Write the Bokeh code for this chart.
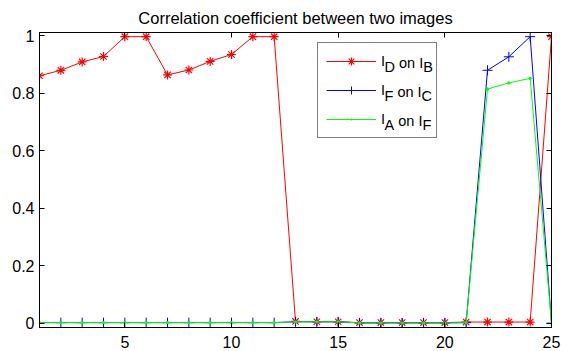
from bokeh.plotting import figure
from bokeh.models import (Range1d, FixedTicker, LinearAxis, Legend, LegendItem, Label,
                          CustomLabelingPolicy)
from bokeh.core.properties import value
from bokeh.embed import file_html
from bokeh.resources import INLINE

# ---- data ----
x_vals = list(range(1, 26))
db_vals = [0.861, 0.880, 0.909, 0.928, 0.997, 0.997, 0.864, 0.881, 0.911, 0.935,
           0.997, 0.997, 0.006, 0.005, 0.005, 0.002, 0.002, 0.002, 0.002, 0.002,
           0.004, 0.004, 0.004, 0.004, 0.997]
fc_vals = [0.002, 0.002, 0.002, 0.002, 0.002, 0.002, 0.002, 0.002, 0.002, 0.002,
           0.002, 0.002, 0.005, 0.005, 0.005, 0.001, 0.001, 0.001, 0.001, 0.001,
           0.002, 0.880, 0.927, 0.997, 0.0]
af_vals = [0.002, 0.002, 0.002, 0.002, 0.002, 0.002, 0.002, 0.002, 0.002, 0.002,
           0.002, 0.002, 0.005, 0.005, 0.005, 0.001, 0.001, 0.001, 0.001, 0.001,
           0.002, 0.815, 0.836, 0.852, 0.0]
x_ticks = [5, 10, 15, 20, 25]
y_ticks = [0, 0.2, 0.4, 0.6, 0.8, 1]
y_tick_labels = ["0", "0.2", "0.4", "0.6", "0.8", "1"]
title_text = "Correlation coefficient between two images"
legend_parts = [("I", "D", "on I", "B"), ("I", "F", "on I", "C"), ("I", "A", "on I", "F")]

FONT = "Liberation Sans"
W, H = 576, 351
BL, BR, BT, BB = 39, 25, 32, 24
X0, X1, Y0, Y1 = 1, 25, -0.015, 1.0115

p = figure(width=W, height=H, output_backend="svg", toolbar_location=None,
           x_range=Range1d(X0, X1), y_range=Range1d(Y0, Y1),
           title=title_text)
p.min_border_left = BL
p.min_border_right = BR
p.min_border_top = BT
p.min_border_bottom = BB
p.background_fill_color = "white"
p.border_fill_color = "white"
p.outline_line_color = "black"
p.outline_line_width = 1
p.grid.visible = False

p.title.text_font = FONT
p.title.text_font_size = "16.5px"
p.title.text_font_style = "normal"
p.title.text_color = "black"
p.title.align = "center"
p.title.standoff = 12

no_labels = CustomLabelingPolicy(code="return new Set()")


def style_axis(ax, labels=True):
    ax.axis_line_color = "black"
    ax.major_tick_line_color = "black"
    ax.major_tick_in = 5
    ax.major_tick_out = 0
    ax.minor_tick_in = 0
    ax.minor_tick_out = 0
    ax.major_label_text_font = FONT
    ax.major_label_text_color = "black"
    if labels:
        ax.major_label_text_font_size = "16px"
    else:
        ax.major_label_text_font_size = "0px"
        ax.major_label_standoff = 0
        ax.major_label_policy = no_labels


p.xaxis.ticker = FixedTicker(ticks=x_ticks)
p.yaxis.ticker = FixedTicker(ticks=y_ticks)
p.yaxis.major_label_overrides = {t: l for t, l in zip(y_ticks, y_tick_labels)}
style_axis(p.xaxis[0])
style_axis(p.yaxis[0])
p.xaxis.major_label_standoff = 8
p.yaxis.major_label_standoff = 5

top_ax = LinearAxis(ticker=FixedTicker(ticks=x_ticks))
style_axis(top_ax, labels=False)
p.add_layout(top_ax, "above")
right_ax = LinearAxis(ticker=FixedTicker(ticks=y_ticks))
style_axis(right_ax, labels=False)
p.add_layout(right_ax, "right")

red, blue, green = "#ff0000", "#0000ff", "#00ff00"
l1 = p.line(x_vals, db_vals, line_color=red, line_width=1)
m1 = p.scatter(x_vals, db_vals, marker="asterisk", size=9, line_color=red, line_width=1.2)
l2 = p.line(x_vals, fc_vals, line_color=blue, line_width=1)
m2 = p.scatter(x_vals, fc_vals, marker="cross", size=10, line_color=blue, line_width=1)
l3 = p.line(x_vals, af_vals, line_color=green, line_width=1)
m3 = p.scatter(x_vals, af_vals, marker="dot", size=13, line_color=green, fill_color=green)

# legend box (glyphs + first letter); remaining text as labels to allow subscripts
FH = H - BT - BB
LEG_LEFT, LEG_TOP, LEG_H = 278, 12, 94
PAD, GH, SP, GW, LS = 8, 20, 9, 50, 5
LFS = 14.5
legend = Legend(items=[LegendItem(label=value(parts[0]), renderers=rs)
                       for parts, rs in zip(legend_parts, [[l1, m1], [l2, m2], [l3, m3]])],
                location=(LEG_LEFT, FH - LEG_TOP - LEG_H), margin=0, padding=PAD,
                spacing=SP, glyph_width=GW, glyph_height=GH, label_height=GH,
                label_standoff=LS, label_width=47,
                label_text_font=FONT, label_text_font_size=f"{LFS}px",
                label_text_color="black",
                border_line_color="black", border_line_width=1,
                background_fill_color="white", background_fill_alpha=0)
p.add_layout(legend, "center")

WIDTHS = {"I": 0.278, "D": 0.722, "F": 0.611, "A": 0.667, "B": 0.667, "C": 0.722,
          " ": 0.278, "o": 0.556, "n": 0.556}


def tw(s):
    return sum(WIDTHS[c] for c in s) * LFS


# labels anchored at the top-left corner of the plot frame, shifted in pixels
text_x0 = LEG_LEFT + PAD + GW + LS
for i, (a, sub1, mid, sub2) in enumerate(legend_parts):
    center = LEG_TOP + PAD + GH / 2 + i * (GH + SP)
    xs1 = text_x0 + tw(a)
    xm = xs1 + tw(sub1) + tw(" ")
    xs2 = xm + tw(mid)
    for txt, xx, dy in [(sub1, xs1, 4.7), (mid, xm, 0), (sub2, xs2, 4.7)]:
        p.add_layout(Label(x=X0, y=Y1, x_offset=xx, y_offset=-(center + dy), text=txt,
                           text_font=FONT, text_font_size=f"{LFS}px", text_color="black",
                           text_baseline="middle", text_align="left"))

open("out.html", "w").write(file_html(p, INLINE))
